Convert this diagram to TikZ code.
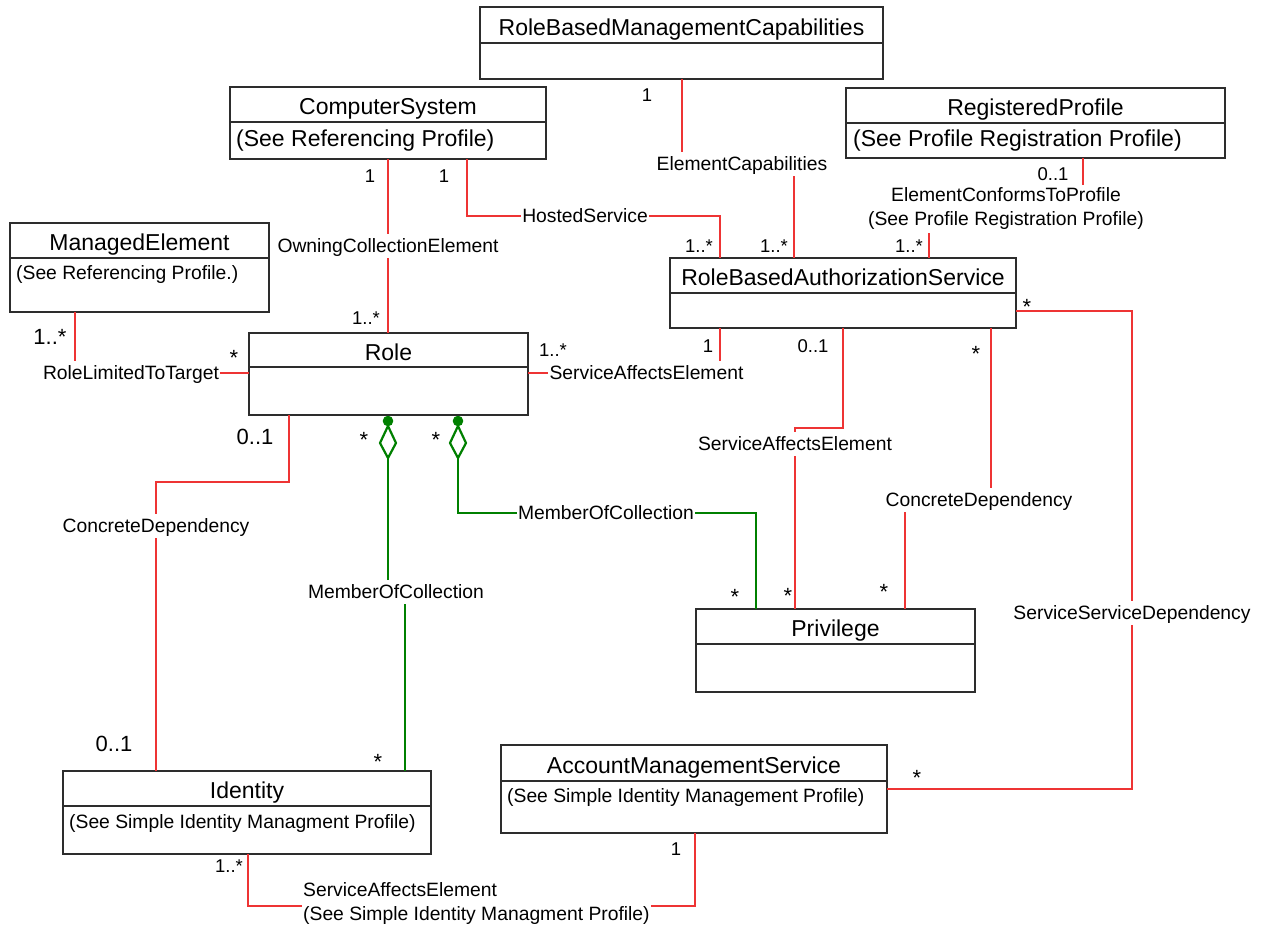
\documentclass[tikz,border=0pt]{standalone}
\usepackage{fontspec}
\setmainfont{Liberation Sans}
\usetikzlibrary{calc}

\definecolor{assocred}{RGB}{238,52,52}
\definecolor{aggrgreen}{RGB}{0,128,0}
\definecolor{boxline}{RGB}{45,45,45}

\tikzset{
  hdr/.style={draw=boxline, line width=1.2pt, inner sep=0pt, outer sep=0pt, anchor=north west,
              text height=20pt, text depth=0pt, font=\fontsize{23}{27}\selectfont},
  bdy/.style={draw=boxline, line width=1.2pt, inner sep=0pt, outer sep=0pt, anchor=north west},
  notebig/.style={inner sep=0pt, anchor=west, font=\fontsize{23}{27}\selectfont},
  notesm/.style={inner sep=0pt, anchor=west, font=\fontsize{19.3}{23}\selectfont},
  lbl/.style={inner xsep=1pt, inner ysep=4.5pt, text height=14pt, text depth=1pt,
              font=\fontsize{19.3}{23}\selectfont},
  lbltwo/.style={inner xsep=1pt, inner ysep=3pt, font=\fontsize{19.3}{24}\selectfont},
  mult/.style={inner sep=0pt, font=\fontsize{18.5}{22}\selectfont},
  starmult/.style={inner sep=0pt, font=\fontsize{22}{26}\selectfont, yshift=-4.8pt},
  bigmult/.style={inner sep=0pt, font=\fontsize{22}{26}\selectfont},
  assoc/.style={draw=assocred, line width=1.2pt},
  aggr/.style={draw=aggrgreen, line width=2.5pt},
}

\begin{document}
\begin{tikzpicture}[x=1pt,y=-1pt]
\useasboundingbox (0,0) rectangle (1261,924);

% ---------- classes ----------
\node[hdr, minimum width=403pt, minimum height=36pt] (rbmcT) at (480,7) {RoleBasedManagementCapabilities};
\node[bdy, minimum width=403pt, minimum height=36pt] (rbmcB) at (rbmcT.south west) {};

\node[hdr, minimum width=316pt, minimum height=35pt] (csT) at (230,87) {ComputerSystem};
\node[bdy, minimum width=316pt, minimum height=37pt] (csB) at (csT.south west) {};
\node[notebig] (csN) at (236,141) {(See Referencing Profile)};

\node[hdr, minimum width=379pt, minimum height=35pt] (rpT) at (846,88) {RegisteredProfile};
\node[bdy, minimum width=379pt, minimum height=35pt] (rpB) at (rpT.south west) {};
\node[notebig] (rpN) at (853,141) {(See Profile Registration Profile)};

\node[hdr, minimum width=259pt, minimum height=35pt] (meT) at (10,223) {ManagedElement};
\node[bdy, minimum width=259pt, minimum height=54pt] (meB) at (meT.south west) {};
\node[notesm] (meN) at (16,275) {(See Referencing Profile.)};

\node[hdr, minimum width=346pt, minimum height=35pt] (rbasT) at (670,258) {RoleBasedAuthorizationService};
\node[bdy, minimum width=346pt, minimum height=35pt] (rbasB) at (rbasT.south west) {};

\node[hdr, minimum width=279pt, minimum height=34pt] (roleT) at (249,333) {Role};
\node[bdy, minimum width=279pt, minimum height=48pt] (roleB) at (roleT.south west) {};

\node[hdr, minimum width=279pt, minimum height=35pt] (privT) at (696,609) {Privilege};
\node[bdy, minimum width=279pt, minimum height=48pt] (privB) at (privT.south west) {};

\node[hdr, minimum width=386pt, minimum height=36pt] (amsT) at (501,745) {AccountManagementService};
\node[bdy, minimum width=386pt, minimum height=52pt] (amsB) at (amsT.south west) {};
\node[notesm] (amsN) at (507,797) {(See Simple Identity Management Profile)};

\node[hdr, minimum width=368pt, minimum height=35pt] (idT) at (63,771) {Identity};
\node[bdy, minimum width=368pt, minimum height=48pt] (idB) at (idT.south west) {};
\node[notesm] (idN) at (69,823) {(See Simple Identity Managment Profile)};

% ---------- association labels ----------
\node[lbl] (oce)  at (388,246)   {OwningCollectionElement};
\node[lbl] (hs)   at (585,216)   {HostedService};
\node[lbl] (ec)   at (742,164)   {ElementCapabilities};
\node[lbltwo, align=center] (ecp) at (1006,209) {ElementConformsToProfile\\(See Profile Registration Profile)};
\node[lbl] (rltt) at (131,373)   {RoleLimitedToTarget};
\node[lbl] (sae1) at (646.5,373) {ServiceAffectsElement};
\node[lbl] (sae2) at (795,444)   {ServiceAffectsElement};
\node[lbl] (cd1)  at (979,500)   {ConcreteDependency};
\node[lbl] (ssd)  at (1132,613)  {ServiceServiceDependency};
\node[lbl] (moc1) at (396,592)   {MemberOfCollection};
\node[lbl] (moc2) at (606,513)   {MemberOfCollection};
\node[lbl] (cd2)  at (156,526)   {ConcreteDependency};
\node[lbltwo, align=left, anchor=west] (sae3) at (302,903) {ServiceAffectsElement\\(See Simple Identity Managment Profile)};

% ---------- associations ----------
\draw[assoc] (csB.south -| oce) -- (oce.north);
\draw[assoc] (oce.south) -- (roleT.north -| oce);

\draw[assoc] (csB.south -| 467,0) |- (hs.west);
\draw[assoc] (hs.east) -| (rbasT.north -| 720,0);

\draw[assoc] (rbmcB.south -| 682,0) -- (ec.north -| 682,0);
\draw[assoc] (ec.south -| 794,0) -- (rbasT.north -| 794,0);

\draw[assoc] (rpB.south -| 1083,0) -- (ecp.north -| 1083,0);
\draw[assoc] (ecp.south -| 929,0) -- (rbasT.north -| 929,0);

\draw[assoc] (meB.south -| 75,0) -- (rltt.north -| 75,0);
\draw[assoc] (rltt.east) -- (roleB.west |- rltt.east);

\draw[assoc] (roleB.east |- sae1.west) -- (sae1.west);
\draw[assoc] (sae1.north -| 720,0) -- (rbasB.south -| 720,0);

\draw[assoc] (rbasB.south -| 843,0) -- (843,428) -| (sae2.north -| 795,0);
\draw[assoc] (sae2.south -| 795,0) -- (privT.north -| 795,0);

\draw[assoc] (rbasB.south -| 991,0) -- (cd1.north -| 991,0);
\draw[assoc] (cd1.south -| 905,0) -- (privT.north -| 905,0);

\draw[assoc] (rbasB.east |- 0,311) -| (ssd.north -| 1132,0);
\draw[assoc] (ssd.south -| 1132,0) |- (amsB.east |- 0,789);

\draw[assoc] (roleB.south -| 289,0) |- (156,482) -- (cd2.north);
\draw[assoc] (cd2.south) -- (idT.north -| cd2);

\draw[assoc] (idB.south -| 248,0) |- ([yshift=-3pt]sae3.west);
\draw[assoc] ([yshift=-3pt]sae3.east) -| (amsB.south -| 695,0);

% ---------- aggregations (MemberOfCollection) ----------
\coordinate (agL) at (roleB.south -| 388,0);
\coordinate (agR) at (roleB.south -| 458,0);
\foreach \a in {agL,agR}{
  \fill[aggrgreen] ($(\a)+(0,6)$) circle (5.3pt);
  \draw[aggr, line width=2.2pt, fill=white] ($(\a)+(0,11)$) -- ($(\a)+(8,28)$) -- ($(\a)+(0,43)$) -- ($(\a)+(-8,28)$) -- cycle;
}
\draw[aggr] ($(agL)+(0,43)$) -- (moc1.north -| agL);
\draw[aggr] (moc1.south -| 405,0) -- (idT.north -| 405,0);
\draw[aggr] ($(agR)+(0,43)$) |- (moc2.west);
\draw[aggr] (moc2.east) -| (privT.north -| 756,0);

% ---------- multiplicities ----------
\node[mult] (m01) at (647,95)  {1};
\node[mult] (m02) at (370,176) {1};
\node[mult] (m03) at (444,176) {1};
\node[mult] (m04) at (699,246) {1..*};
\node[mult] (m05) at (774,246) {1..*};
\node[mult] (m06) at (909,246) {1..*};
\node[mult] (m07) at (1053,174) {0..1};
\node[bigmult] (m08) at (50,337) {1..*};
\node[starmult] (m09) at (234,353) {*};
\node[mult] (m10) at (366,318) {1..*};
\node[mult] (m11) at (553,350) {1..*};
\node[mult] (m12) at (708,346) {1};
\node[mult] (m13) at (813,346) {0..1};
\node[starmult] (m14) at (976,349) {*};
\node[starmult] (m15) at (1027,302) {*};
\node[bigmult] (m16) at (255,437) {0..1};
\node[starmult] (m17) at (364,435) {*};
\node[starmult] (m18) at (436,435) {*};
\node[starmult] (m19) at (735,592) {*};
\node[starmult] (m20) at (788,591) {*};
\node[starmult] (m21) at (884,587) {*};
\node[bigmult] (m22) at (114,744) {0..1};
\node[starmult] (m23) at (378,757) {*};
\node[starmult] (m24) at (917,773) {*};
\node[mult] (m25) at (229,866) {1..*};
\node[mult] (m26) at (676,849) {1};
\end{tikzpicture}
\end{document}
